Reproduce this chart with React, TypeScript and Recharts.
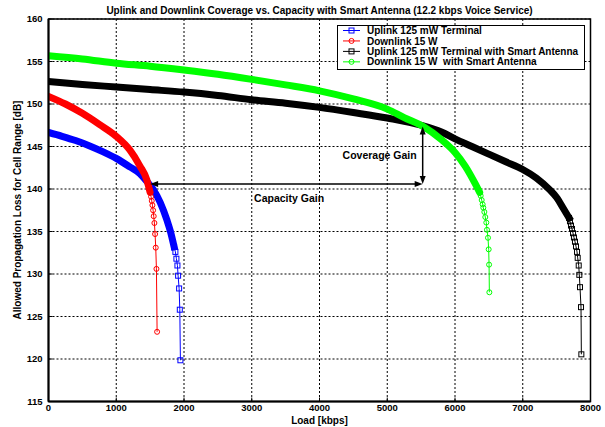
import React from 'react';
import {
  ComposedChart,
  Line,
  XAxis,
  YAxis,
  CartesianGrid,
  ReferenceLine,
  ReferenceDot,
  ReferenceArea,
  Legend,
} from 'recharts';

const FONT = '"Liberation Sans", Arial, Helvetica, sans-serif';

const loadTicks = [0, 1000, 2000, 3000, 4000, 5000, 6000, 7000, 8000];
const lossTicks = [115, 120, 125, 130, 135, 140, 145, 150, 155, 160];

// [load kbps, allowed propagation loss dB]
// "head" = densely sampled part (markers merge into a solid band),
// "tail" = sparse samples close to the pole capacity.
const uplinkHead = [
  [0, 146.65], [200, 146.2], [400, 145.7], [600, 145.1], [800, 144.4],
  [1000, 143.6], [1200, 142.6], [1350, 141.8], [1450, 140.9], [1550, 139.9],
  [1650, 138.4], [1750, 136.3], [1800, 135.0], [1854, 133.2],
];
const uplinkTail = [
  [1854, 133.2], [1873, 132.6], [1888, 131.8], [1903, 131.0], [1913, 129.8],
  [1928, 128.3], [1938, 125.8], [1947, 119.85],
];

const downlinkHead = [
  [0, 150.9], [250, 150.0], [500, 148.9], [750, 147.6], [1000, 146.2],
  [1200, 144.6], [1350, 142.7], [1450, 141.1], [1500, 139.6],
];
const downlinkTail = [
  [1500, 139.6], [1514, 139.1], [1524, 138.6], [1534, 138.1], [1544, 137.5],
  [1553, 136.8], [1563, 136.0], [1573, 134.7], [1583, 133.1], [1593, 130.6],
  [1603, 123.2],
];

const uplinkSaHead = [
  [0, 152.65], [500, 152.3], [1000, 152.0], [1500, 151.7], [2000, 151.4],
  [2500, 151.0], [3000, 150.5], [3500, 150.1], [4000, 149.6], [4500, 149.0],
  [5000, 148.35], [5500, 147.5], [5800, 146.7], [6000, 145.9], [6250, 145.0],
  [6500, 144.1], [6750, 143.2], [7000, 142.3], [7200, 141.3], [7400, 139.9],
  [7500, 139.0], [7600, 137.7], [7683, 136.6],
];
const uplinkSaTail = [
  [7683, 136.6], [7697, 136.2], [7712, 135.7], [7727, 135.3], [7742, 134.8],
  [7756, 134.3], [7771, 133.8], [7786, 133.25], [7801, 132.6], [7811, 131.9],
  [7826, 131.0], [7835, 129.9], [7845, 128.45], [7860, 126.1], [7865, 120.55],
];

const downlinkSaHead = [
  [0, 155.67], [500, 155.3], [1000, 154.8], [1500, 154.45], [2000, 154.0],
  [2500, 153.5], [3000, 152.9], [3500, 152.25], [4000, 151.55], [4500, 150.6],
  [5000, 149.4], [5250, 148.4], [5532, 147.35], [5800, 145.8], [6000, 144.3],
  [6150, 142.7], [6300, 140.6], [6364, 139.6],
];
const downlinkSaTail = [
  [6364, 139.6], [6379, 139.2], [6394, 138.7], [6408, 138.2], [6418, 137.8],
  [6433, 137.3], [6447, 136.7], [6462, 136.05], [6472, 135.2], [6487, 134.26],
  [6497, 132.9], [6503, 131.1], [6507, 127.85],
];

// annotation anchors (load kbps / loss dB)
const capacityGain = { from: 1500, to: 5523, loss: 140.6 };
const coverageGain = { load: 5523, from: 140.6, to: 147.35 };
const capacityLabel = { load: 3035, loss: 139.0, text: 'Capacity Gain' };
const coverageLabel = { load: 5435, loss: 144.0, text: 'Coverage Gain' };

type Marker = 'square' | 'circle';

const series: {
  name: string;
  color: string;
  marker: Marker;
  head: number[][];
  tail: number[][];
}[] = [
  { name: 'Uplink 125 mW Terminal', color: '#0000ff', marker: 'square', head: uplinkHead, tail: uplinkTail },
  { name: 'Downlink 15 W', color: '#ff0000', marker: 'circle', head: downlinkHead, tail: downlinkTail },
  { name: 'Uplink 125 mW Terminal with Smart Antenna', color: '#000000', marker: 'square', head: uplinkSaHead, tail: uplinkSaTail },
  { name: 'Downlink 15 W  with Smart Antenna', color: '#00ff00', marker: 'circle', head: downlinkSaHead, tail: downlinkSaTail },
];

const toRows = (pts: number[][]) => pts.map(([x, y]) => ({ x, y }));

const drawMarker = (kind: Marker, color: string, cx: number, cy: number, key?: React.Key) =>
  kind === 'square' ? (
    <rect key={key} x={cx - 2.5} y={cy - 2.5} width={5} height={5} fill="none" stroke={color} strokeWidth={1} />
  ) : (
    <circle key={key} cx={cx} cy={cy} r={2.5} fill="none" stroke={color} strokeWidth={1} />
  );

const arrowHead = (tx: number, ty: number, dx: number, dy: number) => {
  const L = 8;
  const W = 3;
  const bx = tx - dx * L;
  const by = ty - dy * L;
  const nx = -dy;
  const ny = dx;
  return `M${tx},${ty} L${bx + nx * W},${by + ny * W} L${bx - nx * W},${by - ny * W} Z`;
};

const DoubleArrow = (props: any) => {
  const { x1, y1, x2, y2 } = props;
  const len = Math.hypot(x2 - x1, y2 - y1) || 1;
  const dx = (x2 - x1) / len;
  const dy = (y2 - y1) / len;
  return (
    <g>
      <line x1={x1 + dx * 6} y1={y1 + dy * 6} x2={x2 - dx * 6} y2={y2 - dy * 6} stroke="#000" strokeWidth={1.5} />
      <path d={arrowHead(x2, y2, dx, dy)} fill="#000" />
      <path d={arrowHead(x1, y1, -dx, -dy)} fill="#000" />
    </g>
  );
};

const LegendBox = () => (
  <svg width={248} height={45} style={{ display: 'block' }}>
    <rect x={0.5} y={0.5} width={247} height={44} fill="#fff" stroke="#000" strokeWidth={1} />
    {series.map((s, i) => {
      const cy = 5.5 + i * 10.45;
      return (
        <g key={s.name}>
          <line x1={6} y1={cy} x2={23} y2={cy} stroke={s.color} strokeWidth={1} />
          {drawMarker(s.marker, s.color, 14.5, cy)}
          <text
            x={30}
            y={cy + 3.6}
            fontFamily={FONT}
            fontSize={10}
            fontWeight="bold"
            fill="#000"
            style={{ whiteSpace: 'pre' }}
          >
            {s.name}
          </text>
        </g>
      );
    })}
  </svg>
);

const tickStyle = { fontFamily: FONT, fontSize: 9.5, fontWeight: 'bold' as const, fill: '#000' };

export default function App() {
  return (
    <div style={{ position: 'absolute', left: 0, top: 0, width: 605, height: 427, background: '#fff' }}>
      <div
        style={{
          position: 'absolute',
          left: 48.5,
          top: 3.5,
          width: 542,
          textAlign: 'center',
          fontFamily: FONT,
          fontSize: 10,
          fontWeight: 'bold',
          lineHeight: '13px',
          color: '#000',
        }}
      >
        Uplink and Downlink Coverage vs. Capacity with Smart Antenna (12.2 kbps Voice Service)
      </div>
      <div
        style={{
          position: 'absolute',
          left: 17,
          top: 210,
          transform: 'translate(-50%, -50%) rotate(-90deg)',
          whiteSpace: 'nowrap',
          fontFamily: FONT,
          fontSize: 10,
          fontWeight: 'bold',
          color: '#000',
        }}
      >
        Allowed Propagation Loss for Cell Range [dB]
      </div>
      <div
        style={{
          position: 'absolute',
          left: 48.5,
          top: 415,
          width: 542,
          textAlign: 'center',
          fontFamily: FONT,
          fontSize: 10,
          fontWeight: 'bold',
          lineHeight: '11px',
          color: '#000',
        }}
      >
        Load [kbps]
      </div>
      <ComposedChart
        width={605}
        height={427}
        margin={{ top: 19, right: 14.5, bottom: 0, left: 0 }}
        style={{ position: 'absolute', left: 0, top: 0 }}
      >
        <CartesianGrid stroke="#000" strokeDasharray="2 2" strokeWidth={1} />
        <XAxis
          type="number"
          dataKey="x"
          domain={[0, 8000]}
          ticks={loadTicks}
          height={25.5}
          tick={tickStyle}
          tickSize={-4}
          tickMargin={7}
          axisLine={{ stroke: '#000', strokeWidth: 2 }}
          tickLine={{ stroke: '#000' }}
          allowDataOverflow
        />
        <YAxis
          type="number"
          dataKey="y"
          domain={[115, 160]}
          ticks={lossTicks}
          width={48.5}
          tick={tickStyle}
          tickSize={-4}
          tickMargin={10}
          axisLine={{ stroke: '#000', strokeWidth: 2 }}
          tickLine={{ stroke: '#000' }}
          allowDataOverflow
        />
        <ReferenceArea x1={0} x2={8000} y1={115} y2={160} fill="none" stroke="#000" strokeWidth={1.5} />
        {series.map((s) => (
          <Line
            key={s.name + '-head'}
            data={toRows(s.head)}
            dataKey="y"
            type="monotone"
            stroke={s.color}
            strokeWidth={7}
            strokeLinecap={s.marker === 'square' ? 'square' : 'round'}
            strokeLinejoin="round"
            dot={false}
            activeDot={false}
            legendType="none"
            isAnimationActive={false}
          />
        ))}
        {series.map((s) => (
          <Line
            key={s.name + '-tail'}
            name={s.name}
            data={toRows(s.tail)}
            dataKey="y"
            type="linear"
            stroke={s.color}
            strokeWidth={1}
            dot={(p: any) => drawMarker(s.marker, s.color, p.cx, p.cy, p.index)}
            activeDot={false}
            isAnimationActive={false}
          />
        ))}
        <ReferenceLine
          segment={[
            { x: capacityGain.from, y: capacityGain.loss },
            { x: capacityGain.to, y: capacityGain.loss },
          ]}
          shape={DoubleArrow}
        />
        <ReferenceLine
          segment={[
            { x: coverageGain.load, y: coverageGain.from },
            { x: coverageGain.load, y: coverageGain.to },
          ]}
          shape={DoubleArrow}
        />
        <ReferenceDot
          x={capacityLabel.load}
          y={capacityLabel.loss}
          r={0}
          shape={(p: any) => (
            <text x={p.cx} y={p.cy} dominantBaseline="central" textAnchor="start" fontFamily={FONT} fontSize={10.5} fontWeight="bold" fill="#000">
              {capacityLabel.text}
            </text>
          )}
        />
        <ReferenceDot
          x={coverageLabel.load}
          y={coverageLabel.loss}
          r={0}
          shape={(p: any) => (
            <text x={p.cx} y={p.cy} dominantBaseline="central" textAnchor="end" fontFamily={FONT} fontSize={10.5} fontWeight="bold" fill="#000">
              {coverageLabel.text}
            </text>
          )}
        />
        <Legend
          layout="vertical"
          align="center"
          verticalAlign="middle"
          wrapperStyle={{ left: 337, top: 25, width: 248, height: 45 }}
          content={() => <LegendBox />}
        />
      </ComposedChart>
    </div>
  );
}
